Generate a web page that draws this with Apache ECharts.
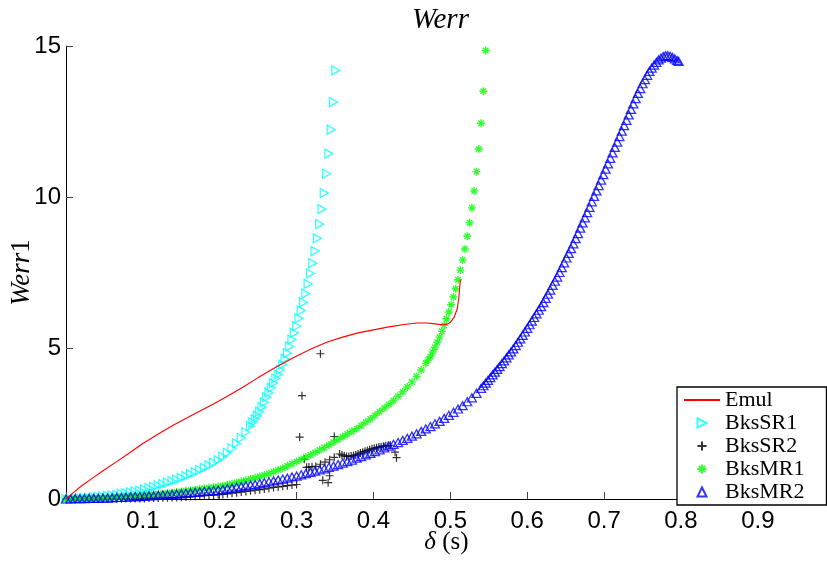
<!DOCTYPE html>
<html><head><meta charset="utf-8">
<script src="https://cdn.jsdelivr.net/npm/echarts@6/dist/echarts.min.js"></script>
<style>html,body{margin:0;padding:0;background:#fff}#c{width:827px;height:562px}</style>
</head><body><div id="c"></div>
<script>
// ---- data ----
const titleText = 'Werr';
const seriesNames = ['Emul', 'BksSR1', 'BksSR2', 'BksMR1', 'BksMR2'];
const yTickValues = [0, 5, 10, 15];

const emulX = [0,0.01,0.02,0.035,0.05,0.065,0.08,0.1,0.12,0.14,0.165,0.19,0.21,0.23,0.25,0.27,0.295,0.32,0.34,0.36,0.38,0.4,0.42,0.44,0.456,0.47,0.48,0.49,0.496,0.5,0.505,0.509,0.511,0.513];
const emulY = [0,0.22,0.43,0.7,0.97,1.22,1.48,1.84,2.15,2.45,2.79,3.12,3.4,3.7,4.02,4.32,4.67,4.98,5.2,5.36,5.5,5.6,5.7,5.78,5.83,5.83,5.8,5.77,5.79,5.85,6.02,6.3,6.65,7.26];

const bksSR1 = [[0,0],[0.006,0],[0.012,0.01],[0.018,0.02],[0.024,0.03],[0.03,0.04],[0.036,0.05],[0.042,0.07],[0.048,0.08],[0.054,0.1],
[0.06,0.12],[0.066,0.14],[0.072,0.17],[0.078,0.19],[0.084,0.22],[0.09,0.25],[0.096,0.28],[0.102,0.32],[0.108,0.36],[0.114,0.4],
[0.12,0.45],[0.126,0.49],[0.132,0.54],[0.138,0.59],[0.144,0.64],[0.15,0.7],[0.156,0.76],[0.162,0.82],[0.168,0.89],[0.174,0.96],
[0.18,1.03],[0.186,1.11],[0.192,1.2],[0.198,1.29],[0.204,1.4],[0.21,1.53],[0.216,1.68],[0.222,1.84],[0.228,2.02],[0.234,2.21],
[0.24,2.42],[0.243,2.53],[0.246,2.64],[0.249,2.76],[0.252,2.89],[0.255,3.04],[0.258,3.2],[0.261,3.37],[0.264,3.52],[0.267,3.68],
[0.27,3.84],[0.273,3.99],[0.276,4.13],[0.279,4.28],[0.282,4.45],[0.285,4.64],[0.288,4.83],[0.291,5.05],[0.294,5.28],[0.297,5.5],
[0.3,5.72],[0.303,5.98],[0.306,6.24],[0.309,6.51],[0.312,6.8],[0.315,7.12],[0.318,7.47],[0.321,7.81],[0.324,8.21],[0.327,8.63],
[0.33,9.1],[0.333,9.6],[0.336,10.13],[0.339,10.77],[0.342,11.44],[0.345,12.23],[0.348,13.14],[0.351,14.19]];

const bksSR2 = [[0,0],[0.006,0],[0.012,0],[0.018,0],[0.024,0],[0.03,0],[0.036,0.01],[0.042,0.01],[0.048,0.01],[0.054,0.01],
[0.06,0.01],[0.066,0.01],[0.072,0.01],[0.078,0.02],[0.084,0.02],[0.09,0.02],[0.096,0.02],[0.102,0.02],[0.108,0.03],[0.114,0.03],
[0.12,0.03],[0.126,0.04],[0.132,0.04],[0.138,0.05],[0.144,0.05],[0.15,0.06],[0.156,0.07],[0.162,0.08],[0.168,0.09],[0.174,0.1],
[0.18,0.11],[0.186,0.12],[0.192,0.13],[0.198,0.14],[0.204,0.15],[0.21,0.17],[0.216,0.19],[0.222,0.21],[0.228,0.23],[0.234,0.25],
[0.24,0.27],[0.246,0.29],[0.252,0.31],[0.258,0.33],[0.264,0.36],[0.27,0.38],[0.276,0.4],[0.282,0.42],[0.288,0.44],[0.294,0.46],
[0.3,0.48],[0.304,2.05],[0.307,3.42],[0.31,1.32],[0.313,1.05],[0.316,1.06],[0.32,1.07],[0.325,1.08],[0.331,1.15],[0.337,1.22],
[0.343,1.3],[0.349,1.38],[0.331,4.81],[0.349,2.07],[0.334,0.62],[0.341,0.54],[0.343,0.77],[0.428,1.55],[0.43,1.37],
[0.356,1.49],[0.359,1.46],[0.362,1.43],[0.365,1.41],[0.368,1.41],[0.371,1.42],[0.374,1.44],[0.377,1.46],[0.38,1.49],[0.383,1.52],
[0.386,1.55],[0.389,1.58],[0.392,1.61],[0.395,1.63],[0.398,1.66],[0.401,1.68],[0.404,1.7],[0.407,1.72],[0.41,1.73],[0.413,1.75],
[0.416,1.76],[0.419,1.77],[0.422,1.78]];

const bksMR1 = [[0,0],[0.006,0],[0.012,0.01],[0.018,0.01],[0.024,0.02],[0.03,0.02],[0.036,0.03],[0.042,0.03],[0.048,0.04],[0.054,0.04],
[0.06,0.05],[0.066,0.06],[0.072,0.07],[0.078,0.08],[0.084,0.09],[0.09,0.1],[0.096,0.11],[0.102,0.12],[0.108,0.14],[0.114,0.15],
[0.12,0.16],[0.126,0.18],[0.132,0.19],[0.138,0.21],[0.144,0.23],[0.15,0.25],[0.156,0.27],[0.162,0.29],[0.168,0.31],[0.174,0.33],
[0.18,0.35],[0.186,0.37],[0.192,0.39],[0.198,0.41],[0.204,0.44],[0.21,0.47],[0.216,0.5],[0.222,0.54],[0.228,0.58],[0.234,0.62],
[0.24,0.66],[0.246,0.7],[0.252,0.74],[0.258,0.79],[0.264,0.84],[0.27,0.9],[0.276,0.96],[0.282,1.02],[0.288,1.09],[0.294,1.17],
[0.3,1.24],[0.306,1.31],[0.312,1.39],[0.318,1.46],[0.324,1.54],[0.33,1.62],[0.336,1.7],[0.342,1.79],[0.348,1.88],[0.354,1.97],
[0.36,2.06],[0.366,2.15],[0.372,2.24],[0.378,2.33],[0.384,2.43],[0.39,2.54],[0.396,2.65],[0.402,2.77],[0.408,2.89],[0.414,3.01],
[0.42,3.13],[0.426,3.26],[0.432,3.4],[0.438,3.55],[0.444,3.71],[0.45,3.87],[0.456,4.06],[0.462,4.27],[0.468,4.49],[0.471,4.6],
[0.474,4.72],[0.477,4.87],[0.48,5.02],[0.483,5.19],[0.486,5.36],[0.489,5.55],[0.492,5.75],[0.495,5.97],[0.498,6.19],[0.501,6.43],
[0.504,6.69],[0.507,6.96],[0.51,7.26],[0.513,7.58],[0.516,7.91],[0.519,8.28],[0.522,8.7],[0.525,9.15],[0.528,9.64],[0.531,10.2],
[0.534,10.84],[0.537,11.59],[0.54,12.44],[0.543,13.5],[0.546,14.85]];

const bksMR2 = [[0,0],[0.006,0],[0.012,0.01],[0.018,0.01],[0.024,0.01],[0.03,0.02],[0.036,0.02],[0.042,0.02],[0.048,0.03],[0.054,0.03],
[0.06,0.04],[0.066,0.05],[0.072,0.05],[0.078,0.06],[0.084,0.07],[0.09,0.08],[0.096,0.08],[0.102,0.09],[0.108,0.1],[0.114,0.11],
[0.12,0.12],[0.126,0.13],[0.132,0.14],[0.138,0.15],[0.144,0.16],[0.15,0.17],[0.156,0.19],[0.162,0.2],[0.168,0.22],[0.174,0.23],
[0.18,0.25],[0.186,0.26],[0.192,0.28],[0.198,0.29],[0.204,0.31],[0.21,0.34],[0.216,0.36],[0.222,0.39],[0.228,0.41],[0.234,0.44],
[0.24,0.46],[0.246,0.48],[0.252,0.51],[0.258,0.54],[0.264,0.57],[0.27,0.6],[0.276,0.63],[0.282,0.66],[0.288,0.69],[0.294,0.73],
[0.3,0.76],[0.306,0.8],[0.312,0.84],[0.318,0.88],[0.324,0.92],[0.33,0.96],[0.336,1],[0.342,1.05],[0.348,1.09],[0.354,1.14],
[0.36,1.19],[0.366,1.24],[0.372,1.29],[0.378,1.35],[0.384,1.4],[0.39,1.46],[0.396,1.51],[0.402,1.57],[0.408,1.63],[0.414,1.69],
[0.42,1.75],[0.426,1.81],[0.432,1.87],[0.438,1.94],[0.444,2.01],[0.45,2.08],[0.456,2.16],[0.462,2.24],[0.468,2.32],[0.474,2.4],
[0.48,2.49],[0.486,2.57],[0.492,2.67],[0.498,2.77],[0.504,2.87],[0.51,2.98],[0.516,3.09],[0.522,3.22],[0.528,3.35],[0.534,3.5],
[0.54,3.66],[0.543,3.75],[0.546,3.84],[0.549,3.93],[0.552,4.02],[0.555,4.11],[0.558,4.2],[0.561,4.29],[0.564,4.38],[0.567,4.48],
[0.57,4.57],[0.573,4.67],[0.576,4.77],[0.579,4.87],[0.582,4.97],[0.585,5.08],[0.588,5.19],[0.591,5.3],[0.594,5.42],[0.597,5.53],
[0.6,5.65],[0.603,5.77],[0.606,5.89],[0.609,6.01],[0.612,6.13],[0.615,6.25],[0.618,6.37],[0.621,6.5],[0.624,6.64],[0.627,6.78],
[0.63,6.92],[0.633,7.07],[0.636,7.21],[0.639,7.35],[0.642,7.5],[0.645,7.66],[0.648,7.82],[0.651,7.98],[0.654,8.13],[0.657,8.29],
[0.66,8.45],[0.663,8.62],[0.666,8.79],[0.669,8.97],[0.672,9.14],[0.675,9.31],[0.678,9.48],[0.681,9.66],[0.684,9.84],[0.687,10.02],
[0.69,10.2],[0.693,10.38],[0.696,10.56],[0.699,10.74],[0.702,10.92],[0.705,11.1],[0.708,11.28],[0.711,11.46],[0.714,11.64],[0.717,11.82],
[0.72,12],[0.723,12.18],[0.726,12.36],[0.729,12.54],[0.732,12.72],[0.735,12.9],[0.738,13.08],[0.741,13.26],[0.744,13.43],[0.747,13.59],
[0.75,13.75],[0.753,13.89],[0.756,14.03],[0.759,14.16],[0.762,14.27],[0.765,14.37],[0.768,14.46],[0.771,14.54],[0.774,14.6],[0.777,14.65],
[0.78,14.68],[0.783,14.68],[0.786,14.66],[0.789,14.62],[0.792,14.57],[0.795,14.52],[0.797,14.49]];

// ---- chart ----
const emulData = emulX.map((x, i) => [x, emulY[i]]);
const TRI_RIGHT = 'path://M0,0L10,5L0,10Z';
const TRI_UP = 'path://M5,0L10,10L0,10Z';
const PLUS = 'path://M0,5L10,5M5,0L5,10';
const STAR = 'path://M5,0L5,10M0,5L10,5M1.5,1.5L8.5,8.5M8.5,1.5L1.5,8.5';
const serif = 'Liberation Serif';
const sans = 'Liberation Sans';

const chart = echarts.init(document.getElementById('c'));
chart.setOption({
  animation: false,
  backgroundColor: '#fff',
  title: {
    text: titleText, left: 412, top: 6, padding: 0,
    textStyle: { fontFamily: serif, fontStyle: 'italic', fontWeight: 'normal', fontSize: 29, color: '#000' }
  },
  grid: { left: 66, right: 0, top: 46, bottom: 63, outerBoundsMode: 'none', containLabel: false },
  legend: {
    orient: 'vertical', left: 677, top: 387,
    padding: [2, 22, 2, 6], itemGap: 1, itemWidth: 36, itemHeight: 9,
    backgroundColor: '#fff', borderColor: '#000', borderWidth: 1.3,
    selectedMode: false,
    textStyle: { fontFamily: serif, fontSize: 22, color: '#000', lineHeight: 20 },
    data: [
      { name: seriesNames[0], itemStyle: { opacity: 0 } },
      seriesNames[1], seriesNames[2], seriesNames[3], seriesNames[4]
    ]
  },
  xAxis: {
    type: 'value', min: 0, max: 0.99, interval: 0.1,
    axisLine: { lineStyle: { color: '#000', width: 1 } },
    axisTick: { inside: true, length: 7, lineStyle: { color: '#444' } },
    axisLabel: {
      fontFamily: sans, fontSize: 24, color: '#000', margin: 10,
      formatter: v => (v < 0.05 || v > 0.95) ? '' : v.toFixed(1)
    },
    splitLine: { show: false },
    name: '{i|δ} (s)', nameLocation: 'middle', nameGap: 31, nameMoveOverlap: false,
    nameTextStyle: { fontFamily: serif, fontSize: 25, color: '#000',
      rich: { i: { fontFamily: serif, fontStyle: 'italic', fontSize: 25, color: '#000' } } }
  },
  yAxis: {
    type: 'value', min: yTickValues[0], max: yTickValues[yTickValues.length - 1], interval: 5,
    axisLine: { show: true, lineStyle: { color: '#000', width: 1 } },
    axisTick: { show: true, inside: true, length: 7, lineStyle: { color: '#444' } },
    axisLabel: { fontFamily: sans, fontSize: 24, color: '#000', margin: 5 },
    splitLine: { show: false },
    name: '{i|Werr}{n|1}', nameLocation: 'middle', nameGap: 31, nameMoveOverlap: false,
    nameTextStyle: { fontFamily: serif, fontSize: 27, color: '#000',
      rich: { i: { fontFamily: serif, fontStyle: 'italic', fontSize: 27, color: '#000' },
              n: { fontFamily: serif, fontSize: 27, color: '#000' } } }
  },
  series: [
    { name: seriesNames[0], type: 'line', data: emulData, symbol: 'none', silent: true,
      lineStyle: { color: '#ff0000', width: 1.1 }, itemStyle: { color: '#ff0000' } },
    { name: seriesNames[1], type: 'scatter', data: bksSR1, symbol: TRI_RIGHT, symbolSize: [8, 9], silent: true,
      itemStyle: { color: 'transparent', borderColor: '#00ffff', borderWidth: 1.3 } },
    { name: seriesNames[2], type: 'scatter', data: bksSR2, symbol: PLUS, symbolSize: 8, silent: true,
      itemStyle: { color: 'transparent', borderColor: '#000000', borderWidth: 1.2 } },
    { name: seriesNames[3], type: 'scatter', data: bksMR1, symbol: STAR, symbolSize: 8, silent: true,
      itemStyle: { color: 'transparent', borderColor: '#00ff00', borderWidth: 1.4 } },
    { name: seriesNames[4], type: 'scatter', data: bksMR2, symbol: TRI_UP, symbolSize: [9, 8], silent: true,
      itemStyle: { color: 'transparent', borderColor: '#0000ff', borderWidth: 1.3 } }
  ]
});
</script></body></html>
